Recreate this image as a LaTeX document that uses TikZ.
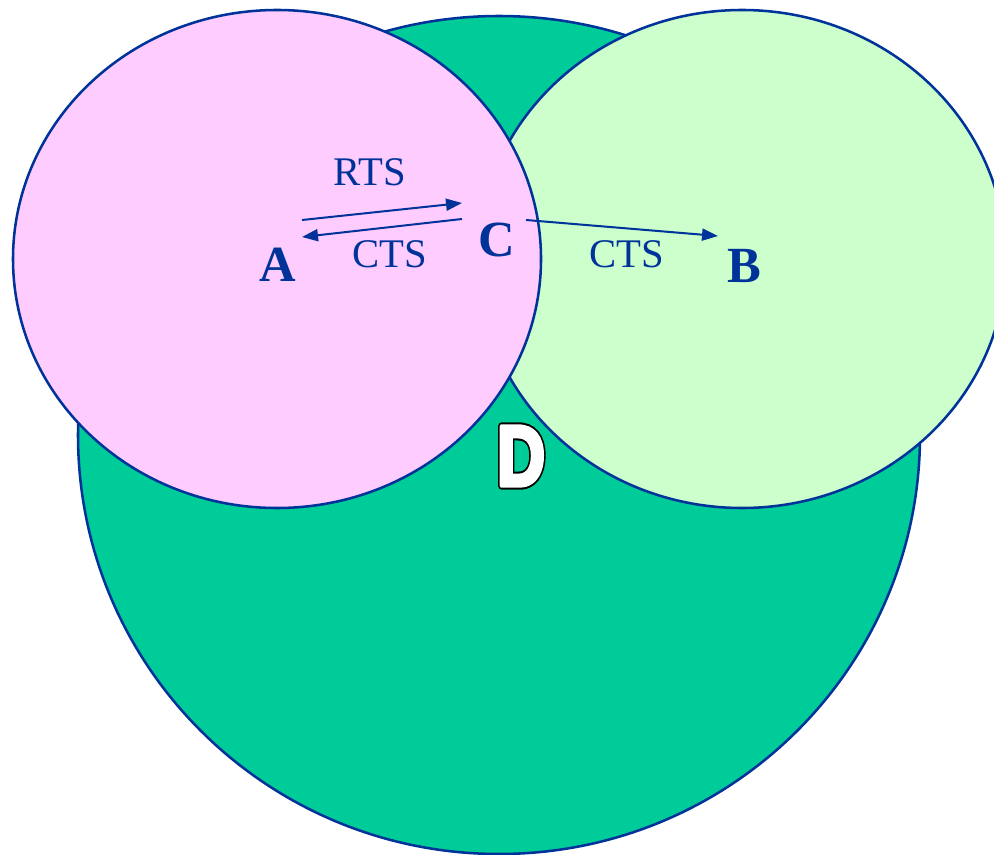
\documentclass[tikz,border=0pt]{standalone}
\usepackage{fontspec}
\setmainfont{Liberation Serif}
\newfontfamily\dfont{Liberation Sans}
\usetikzlibrary{arrows.meta}
\definecolor{edgeblue}{RGB}{0,51,153}
\definecolor{biggreen}{RGB}{0,204,153}
\definecolor{pinkfill}{RGB}{255,204,255}
\definecolor{lightgreen}{RGB}{204,255,204}
\newcommand{\outlinedtext}[1]{\rlap{\special{pdf:literal direct 0 0 0 RG 0 0 0 rg 2 Tr 6.5 w 1 j}#1}\special{pdf:literal direct 1 1 1 RG 1 1 1 rg 2 Tr 3.4 w 1 j}#1\special{pdf:literal direct 0 Tr}}
\begin{document}
\begin{tikzpicture}[x=0.75pt,y=-0.75pt,
  region/.style={draw=edgeblue, line width=1.9pt},
  msg/.style={edgeblue, font=\fontsize{30.5}{32}\selectfont, inner sep=0pt},
  station/.style={edgeblue, font=\fontsize{38}{40}\selectfont\bfseries, inner sep=0pt},
  sig/.style={draw=edgeblue, line width=1.5pt, -{Triangle[length=12pt,width=9pt]}},
  dletter/.style={white, font=\dfont\fontsize{64}{66}\selectfont\bfseries, xscale=0.78, inner sep=0pt}]
\useasboundingbox (0,0) rectangle (994,855);
\clip (0,0) rectangle (994,855);
% regions
\draw[region, fill=biggreen] (499,435) ellipse [x radius=421, y radius=419];
\draw[region, fill=lightgreen] (742,259) ellipse [x radius=264, y radius=249];
\draw[region, fill=pinkfill] (277,259) ellipse [x radius=264, y radius=249];
% D label with outline
\node[dletter] (D) at (521,456) {\outlinedtext{D}};
% stations
\node[station] (A) at (278,265) {A};
\node[station] (C) at (497,240) {C};
\node[station] (B) at (744,266) {B};
% message labels
\node[msg] (rts) at (370,172) {RTS};
\node[msg] (ctsA) at (390,254) {CTS};
\node[msg] (ctsB) at (627,254) {CTS};
% arrow end points
\coordinate (a1) at (302,220);
\coordinate (c1) at (462,203);
\coordinate (c2) at (462,219);
\coordinate (a2) at (302,237);
\coordinate (c3) at (526,220);
\coordinate (b1) at (718,236);
\draw[sig] (a1) -- (c1);
\draw[sig] (c2) -- (a2);
\draw[sig] (c3) -- (b1);
\end{tikzpicture}
\end{document}
